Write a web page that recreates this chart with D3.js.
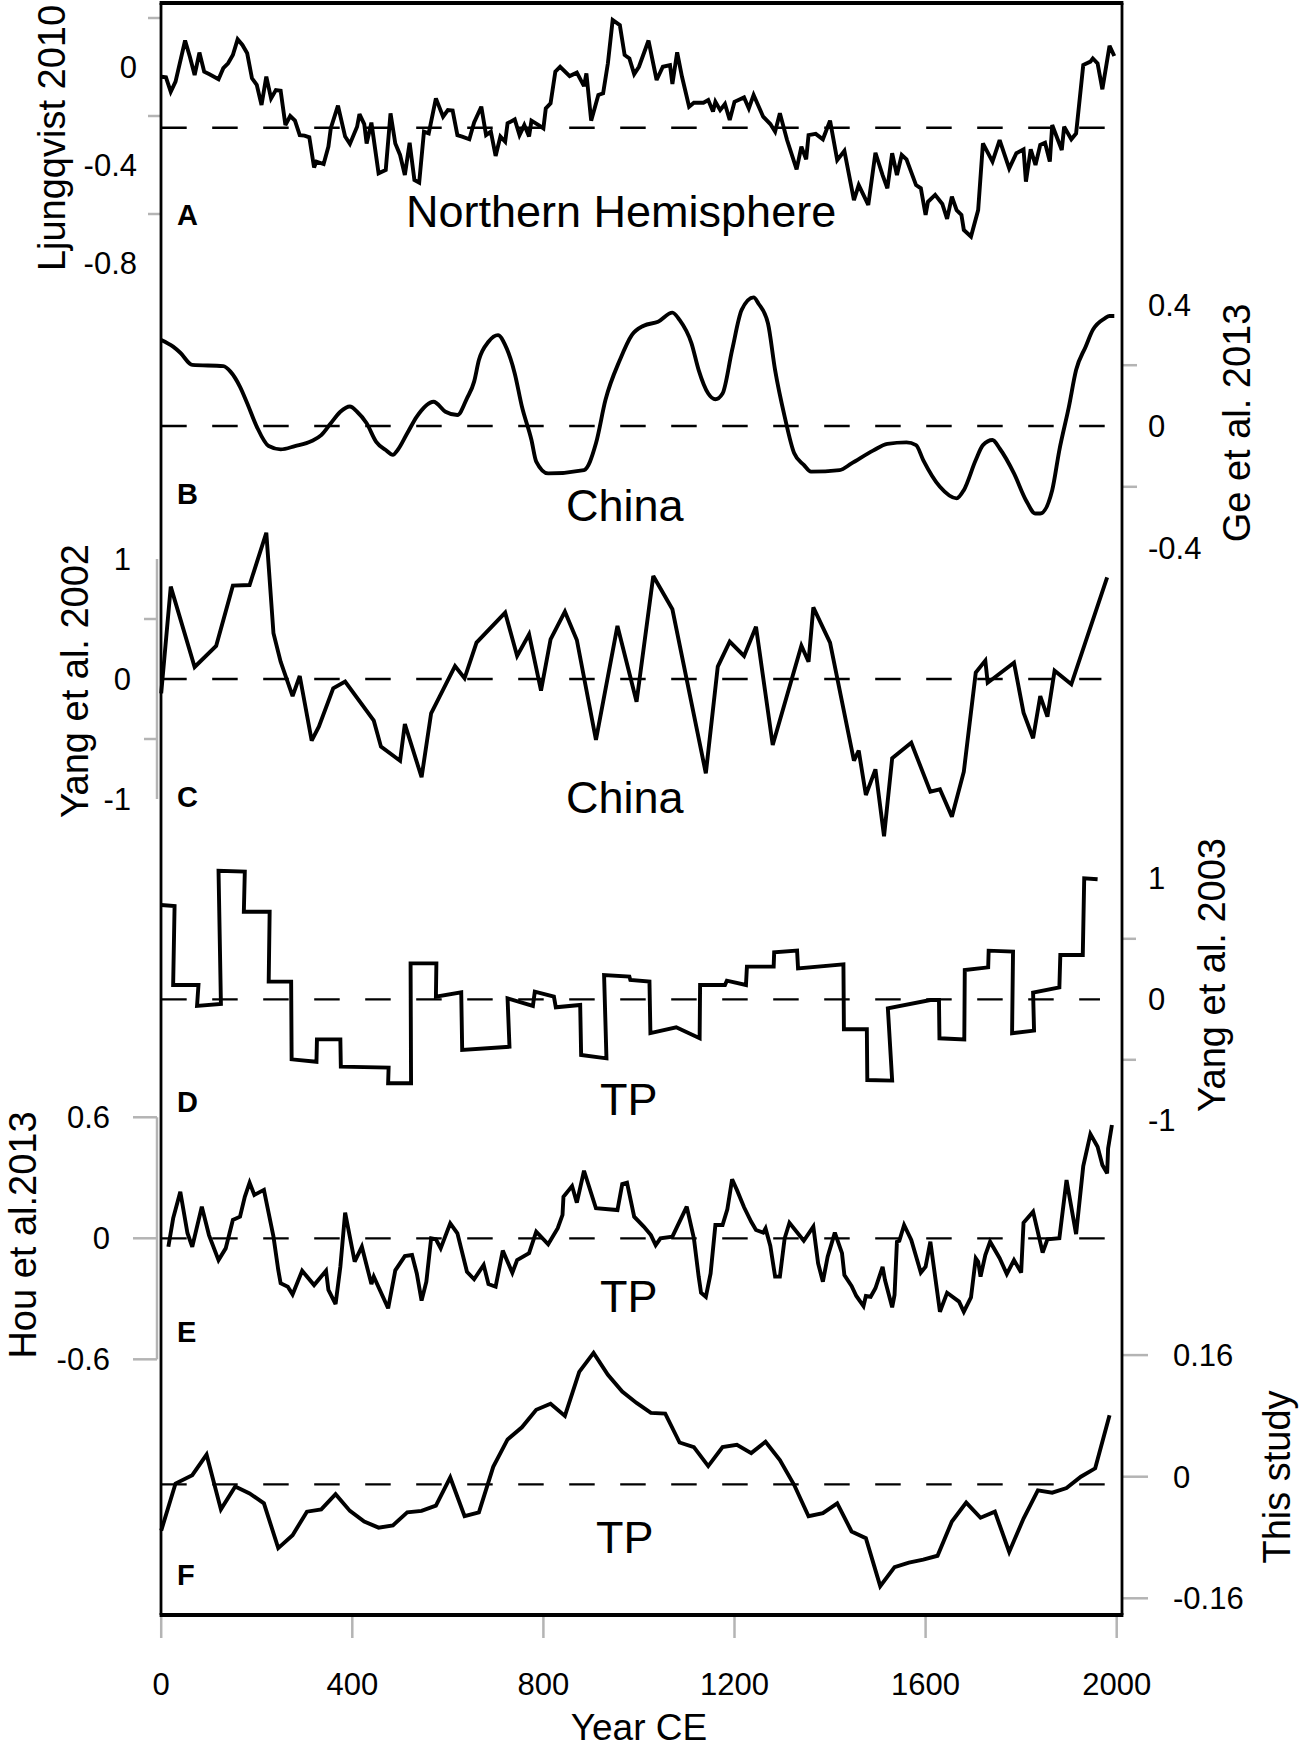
<!DOCTYPE html>
<html>
<head>
<meta charset="utf-8">
<script src="https://cdn.jsdelivr.net/npm/d3@7"></script>
<style>
body { margin: 0; background: #fff; }
text { font-family: "Liberation Sans", Arial, sans-serif; fill: #000; }
</style>
</head>
<body>
<div id="chart"></div>
<script>
// values, [year CE, anomaly]
const ljungqvist2010 = [[0,-0.04],[10,-0.042],[20,-0.101],[30,-0.06],[50,0.108],[60,0.042],[70,-0.033],[80,0.059],[90,-0.019],[100,-0.029],[120,-0.05],[130,-0.005],[140,0.015],[150,0.049],[160,0.113],[170,0.09],[180,0.056],[190,-0.046],[200,-0.073],[210,-0.155],[220,-0.039],[230,-0.128],[240,-0.094],[250,-0.097],[260,-0.237],[270,-0.2],[280,-0.219],[290,-0.278],[300,-0.28],[310,-0.287],[320,-0.41],[325,-0.386],[340,-0.396],[350,-0.325],[355,-0.25],[370,-0.158],[385,-0.284],[395,-0.314],[410,-0.244],[415,-0.192],[425,-0.233],[430,-0.312],[440,-0.227],[455,-0.434],[470,-0.42],[480,-0.189],[490,-0.312],[500,-0.359],[510,-0.441],[520,-0.309],[530,-0.461],[540,-0.472],[550,-0.264],[560,-0.271],[575,-0.128],[590,-0.203],[600,-0.176],[610,-0.178],[620,-0.278],[630,-0.284],[645,-0.295],[655,-0.226],[670,-0.162],[680,-0.278],[690,-0.264],[700,-0.363],[710,-0.284],[720,-0.305],[725,-0.23],[740,-0.214],[750,-0.278],[760,-0.237],[770,-0.284],[775,-0.219],[790,-0.237],[800,-0.25],[805,-0.169],[815,-0.148],[825,-0.019],[835,0.001],[855,-0.037],[870,-0.023],[885,-0.078],[890,-0.026],[900,-0.219],[915,-0.114],[925,-0.107],[935,0.015],[945,0.192],[960,0.171],[970,0.049],[980,0.035],[990,-0.029],[1000,0.001],[1020,0.108],[1037,-0.053],[1050,0.001],[1065,0.008],[1070,-0.069],[1080,0.06],[1090,-0.039],[1105,-0.162],[1115,-0.146],[1135,-0.146],[1145,-0.135],[1155,-0.182],[1160,-0.142],[1170,-0.176],[1180,-0.151],[1190,-0.216],[1200,-0.142],[1220,-0.124],[1230,-0.169],[1240,-0.114],[1260,-0.203],[1275,-0.233],[1285,-0.264],[1295,-0.189],[1310,-0.298],[1330,-0.418],[1340,-0.325],[1350,-0.377],[1355,-0.278],[1370,-0.273],[1385,-0.295],[1400,-0.219],[1415,-0.38],[1430,-0.342],[1450,-0.543],[1460,-0.482],[1480,-0.563],[1495,-0.35],[1510,-0.441],[1520,-0.495],[1530,-0.352],[1540,-0.441],[1550,-0.359],[1560,-0.377],[1580,-0.482],[1590,-0.495],[1600,-0.604],[1605,-0.55],[1620,-0.522],[1635,-0.559],[1645,-0.62],[1655,-0.529],[1665,-0.584],[1675,-0.604],[1680,-0.665],[1695,-0.692],[1710,-0.584],[1720,-0.312],[1740,-0.386],[1755,-0.298],[1775,-0.414],[1790,-0.352],[1805,-0.336],[1810,-0.468],[1820,-0.336],[1830,-0.4],[1840,-0.318],[1850,-0.309],[1860,-0.386],[1865,-0.237],[1885,-0.339],[1890,-0.244],[1905,-0.295],[1915,-0.271],[1930,0.008],[1945,0.022],[1950,0.035],[1960,0.015],[1970,-0.091],[1985,0.086],[1995,0.045]];

const ge2013 = [[0,0.283],[25,0.261],[40,0.241],[65,0.201],[130,0.197],[145,0.179],[165,0.129],[180,0.075],[200,-0.002],[225,-0.066],[250,-0.077],[280,-0.066],[315,-0.049],[335,-0.03],[355,0.009],[375,0.047],[395,0.064],[410,0.047],[430,0.009],[450,-0.052],[470,-0.079],[485,-0.095],[495,-0.079],[515,-0.024],[535,0.031],[570,0.08],[595,0.047],[620,0.036],[640,0.091],[655,0.146],[665,0.217],[685,0.277],[705,0.299],[720,0.266],[740,0.173],[755,0.064],[775,-0.046],[785,-0.117],[810,-0.156],[885,-0.145],[910,-0.057],[930,0.086],[960,0.217],[985,0.299],[1010,0.33],[1040,0.343],[1070,0.373],[1085,0.349],[1110,0.272],[1125,0.184],[1145,0.107],[1160,0.088],[1175,0.107],[1195,0.25],[1215,0.382],[1240,0.423],[1250,0.403],[1270,0.338],[1285,0.184],[1305,0.031],[1325,-0.09],[1345,-0.128],[1360,-0.15],[1420,-0.145],[1445,-0.123],[1490,-0.081],[1520,-0.059],[1560,-0.054],[1580,-0.063],[1595,-0.112],[1630,-0.2],[1665,-0.238],[1680,-0.211],[1705,-0.112],[1720,-0.063],[1740,-0.046],[1755,-0.074],[1785,-0.156],[1810,-0.244],[1830,-0.288],[1840,-0.288],[1865,-0.211],[1880,-0.079],[1900,0.064],[1915,0.184],[1935,0.261],[1950,0.316],[1975,0.354],[1985,0.362],[1995,0.362]];

const yang2002 = [[0,-0.12],[20,0.77],[70,0.1],[115,0.275],[150,0.778],[185,0.783],[220,1.219],[235,0.381],[250,0.144],[275,-0.142],[290,0.025],[315,-0.514],[330,-0.397],[360,-0.078],[385,-0.022],[445,-0.347],[460,-0.564],[500,-0.681],[510,-0.375],[545,-0.819],[565,-0.286],[615,0.108],[635,0.006],[660,0.303],[720,0.553],[745,0.192],[770,0.372],[795,-0.097],[815,0.331],[845,0.561],[870,0.325],[910,-0.508],[955,0.442],[995,-0.189],[1030,0.858],[1070,0.581],[1140,-0.786],[1165,0.103],[1190,0.311],[1220,0.192],[1245,0.436],[1280,-0.55],[1340,0.278],[1355,0.144],[1365,0.597],[1400,0.303],[1450,-0.681],[1460,-0.597],[1475,-0.967],[1495,-0.753],[1513,-1.31],[1530,-0.661],[1570,-0.531],[1610,-0.939],[1630,-0.919],[1655,-1.147],[1680,-0.772],[1705,0.053],[1725,0.153],[1730,-0.031],[1785,0.136],[1805,-0.281],[1825,-0.494],[1840,-0.142],[1855,-0.314],[1870,0.069],[1905,-0.044],[1980,0.847]];

const yang2003 = [[0,0.779],[28,0.771],[25,0.118],[78,0.118],[75,-0.055],[125,-0.039],[120,1.063],[175,1.055],[173,0.724],[227,0.724],[225,0.146],[272,0.146],[273,-0.496],[325,-0.516],[326,-0.331],[375,-0.331],[376,-0.557],[476,-0.565],[475,-0.694],[523,-0.694],[522,0.297],[576,0.297],[575,0.022],[628,0.058],[630,-0.419],[729,-0.392],[725,0.008],[778,-0.055],[782,0.063],[822,0.022],[826,-0.066],[877,-0.047],[879,-0.46],[932,-0.488],[927,0.201],[980,0.187],[982,0.16],[1022,0.146],[1024,-0.28],[1078,-0.231],[1127,-0.322],[1128,0.118],[1180,0.118],[1184,0.154],[1224,0.118],[1226,0.27],[1282,0.27],[1283,0.388],[1331,0.402],[1333,0.256],[1428,0.289],[1429,-0.248],[1477,-0.248],[1478,-0.667],[1530,-0.672],[1521,-0.074],[1610,-0.006],[1628,-0.006],[1629,-0.322],[1681,-0.331],[1682,0.242],[1731,0.264],[1732,0.402],[1783,0.394],[1781,-0.281],[1827,-0.259],[1825,0.055],[1880,0.099],[1882,0.366],[1929,0.366],[1932,1.0],[1960,0.992]];

const hou2013 = [[15,-0.042],[25,0.099],[40,0.231],[55,0.025],[65,-0.042],[85,0.157],[100,0.016],[120,-0.108],[135,-0.05],[150,0.091],[165,0.107],[175,0.206],[185,0.276],[195,0.215],[215,0.24],[235,0.008],[245,-0.157],[250,-0.223],[265,-0.24],[275,-0.278],[295,-0.161],[320,-0.232],[345,-0.161],[350,-0.256],[365,-0.326],[375,-0.141],[385,0.127],[405,-0.116],[420,-0.042],[440,-0.227],[445,-0.19],[475,-0.347],[490,-0.159],[510,-0.088],[525,-0.083],[535,-0.174],[545,-0.309],[555,-0.215],[565,0],[575,-0.005],[585,-0.05],[605,0.074],[620,0.025],[640,-0.166],[655,-0.203],[675,-0.132],[685,-0.227],[700,-0.24],[715,-0.061],[735,-0.171],[745,-0.108],[770,-0.074],[785,0.033],[810,-0.03],[830,0.05],[840,0.116],[842,0.206],[860,0.259],[870,0.177],[885,0.335],[910,0.149],[955,0.14],[965,0.269],[975,0.276],[990,0.107],[1010,0.058],[1025,0.016],[1035,-0.034],[1045,0],[1070,0.008],[1100,0.157],[1115,0],[1125,-0.19],[1130,-0.27],[1140,-0.29],[1150,-0.174],[1160,0.066],[1175,0.066],[1185,0.144],[1195,0.292],[1205,0.24],[1220,0.154],[1235,0.082],[1245,0.041],[1260,0.028],[1265,0.049],[1275,-0.038],[1285,-0.19],[1295,-0.19],[1305,0],[1315,0.077],[1345,-0.012],[1365,0.058],[1375,-0.124],[1385,-0.215],[1395,-0.091],[1410,0.028],[1425,-0.074],[1430,-0.182],[1445,-0.236],[1455,-0.286],[1470,-0.336],[1475,-0.286],[1485,-0.29],[1495,-0.248],[1510,-0.141],[1515,-0.207],[1530,-0.342],[1535,-0.281],[1540,-0.017],[1545,-0.012],[1555,0.066],[1570,-0.008],[1590,-0.17],[1600,-0.141],[1610,-0.017],[1630,-0.364],[1645,-0.27],[1670,-0.314],[1680,-0.364],[1695,-0.293],[1705,-0.099],[1710,-0.116],[1715,-0.19],[1725,-0.083],[1735,-0.017],[1755,-0.099],[1770,-0.177],[1785,-0.108],[1800,-0.17],[1805,0.077],[1825,0.132],[1845,-0.071],[1855,-0.005],[1880,0],[1895,0.289],[1915,0.021],[1930,0.358],[1945,0.517],[1960,0.454],[1970,0.363],[1980,0.322],[1982,0.446],[1990,0.562]];

const thisStudy = [[0,-0.071],[30,-0.009],[65,0.002],[95,0.029],[125,-0.043],[155,-0.013],[185,-0.022],[215,-0.035],[245,-0.094],[275,-0.077],[305,-0.046],[335,-0.043],[365,-0.023],[395,-0.045],[425,-0.059],[455,-0.067],[485,-0.064],[515,-0.047],[545,-0.045],[575,-0.038],[605,-0.001],[635,-0.052],[665,-0.047],[695,0.013],[725,0.049],[755,0.065],[785,0.088],[815,0.096],[845,0.08],[875,0.138],[905,0.163],[935,0.134],[965,0.112],[995,0.097],[1025,0.084],[1055,0.083],[1085,0.045],[1115,0.039],[1145,0.014],[1175,0.039],[1205,0.042],[1235,0.031],[1265,0.046],[1295,0.022],[1325,-0.011],[1355,-0.052],[1385,-0.048],[1415,-0.035],[1445,-0.072],[1475,-0.081],[1505,-0.144],[1535,-0.119],[1565,-0.113],[1595,-0.109],[1625,-0.104],[1655,-0.059],[1685,-0.034],[1715,-0.054],[1745,-0.046],[1775,-0.099],[1805,-0.055],[1835,-0.018],[1865,-0.021],[1895,-0.015],[1925,0],[1955,0.011],[1985,0.081]];

const series = [ljungqvist2010, ge2013, yang2002, yang2003, hou2013, thisStudy];
const panelLetters = ["A", "B", "C", "D", "E", "F"];
const regionNames = ["Northern Hemisphere", "China", "China", "TP", "TP", "TP"];
const axisTitles = ["Ljungqvist 2010", "Ge et al. 2013", "Yang et al. 2002", "Yang et al. 2003", "Hou et al.2013", "This study"];
const tickLabelValues = [[0, -0.4, -0.8], [0.4, 0, -0.4], [1, 0, -1], [1, 0, -1], [0.6, 0, -0.6], [0.16, 0, -0.16]];
const tickMarkValues = [[0.2, -0.2, -0.6], [0.2, -0.2], [0.5, -0.5], [0.5, -0.5], [0.6, 0, -0.6], [0.16, 0, -0.16]];
const refLevels = [-0.248, 0, 0, 0, 0, -0.01];
const refEnds = [1979, 1978, 1968, 1965, 1985, 1978];
const yearTicks = [0, 400, 800, 1200, 1600, 2000];

// layout
var width = 1304,
    height = 1754;
const frame = { left: 161, right: 1122, top: 3, bottom: 1615 };
const panels = [
  { zero: 67, unit: 245, side: "L", tick: [148, 161], labelX: 137, titleX: 65, titleY: 138, letterY: 225, nameX: 406, nameY: 227 },
  { zero: 426, unit: 304, side: "R", tick: [1122, 1137], labelX: 1148, titleX: 1250, titleY: 423, letterY: 504, nameX: 566, nameY: 521, smooth: true },
  { zero: 679, unit: 120, side: "L", tick: [144, 157], labelX: 131, titleX: 88, titleY: 681, letterY: 807, nameX: 566, nameY: 813, spine: [1, -1] },
  { zero: 999.3, unit: 121, side: "R", tick: [1122, 1136], labelX: 1148, titleX: 1225, titleY: 975, letterY: 1112, nameX: 600, nameY: 1115 },
  { zero: 1238.3, unit: 201.7, side: "L", tick: [133, 157], labelX: 110, titleX: 36, titleY: 1235, letterY: 1342, nameX: 600, nameY: 1312, spine: [0.6, -0.6] },
  { zero: 1476.7, unit: 760, side: "R", tick: [1122, 1148], labelX: 1173, titleX: 1290, titleY: 1477, letterY: 1585, nameX: 596, nameY: 1553 }
];

const svg = d3.select("#chart")
  .append("svg")
    .attr("width", width)
    .attr("height", height);

const x = d3.scaleLinear().domain([0, 2000]).range([161.2, 1116.7]);

panels.forEach((p, i) => {
  const y = d3.scaleLinear().domain([0, 1]).range([p.zero, p.zero - p.unit]);
  const g = svg.append("g");

  if (p.spine) {
    g.append("line")
      .attr("x1", p.tick[1]).attr("x2", p.tick[1])
      .attr("y1", y(p.spine[0])).attr("y2", y(p.spine[1]))
      .attr("stroke", "#b4b4b4").attr("stroke-width", 2.5);
  }

  g.selectAll(".tick")
    .data(tickMarkValues[i])
    .join("line")
      .attr("x1", p.tick[0]).attr("x2", p.tick[1])
      .attr("y1", d => y(d)).attr("y2", d => y(d))
      .attr("stroke", "#b4b4b4").attr("stroke-width", 2.5);

  g.selectAll(".lab")
    .data(tickLabelValues[i])
    .join("text")
      .attr("x", p.labelX)
      .attr("y", d => y(d))
      .attr("dy", "0.36em")
      .attr("text-anchor", p.side == "L" ? "end" : "start")
      .attr("font-size", 31)
      .text(d => String(d));

  g.append("text")
    .attr("transform", `translate(${p.titleX},${p.titleY}) rotate(-90)`)
    .attr("text-anchor", "middle")
    .attr("font-size", 38)
    .text(axisTitles[i]);

  g.append("line")
    .attr("x1", x(0)).attr("x2", x(refEnds[i]))
    .attr("y1", y(refLevels[i])).attr("y2", y(refLevels[i]))
    .attr("stroke", "#000").attr("stroke-width", 2.3)
    .attr("stroke-dasharray", "25.5,25.5");

  const line = d3.line()
    .x(d => x(d[0]))
    .y(d => y(d[1]))
    .curve(p.smooth ? d3.curveMonotoneX : d3.curveLinear);

  g.append("path")
    .attr("d", line(series[i]))
    .attr("fill", "none")
    .attr("stroke", "#000")
    .attr("stroke-width", 3.9)
    .attr("stroke-linejoin", "miter")
    .attr("stroke-miterlimit", 3);

  g.append("text")
    .attr("x", 177).attr("y", p.letterY)
    .attr("font-size", 29).attr("font-weight", "bold")
    .text(panelLetters[i]);

  g.append("text")
    .attr("x", p.nameX).attr("y", p.nameY)
    .attr("font-size", 45)
    .text(regionNames[i]);
});

// frame: heavier top and bottom, lighter sides
svg.append("line")
  .attr("x1", frame.left).attr("x2", frame.left)
  .attr("y1", frame.top).attr("y2", frame.bottom)
  .attr("stroke", "#000").attr("stroke-width", 2.8);
svg.append("line")
  .attr("x1", frame.right).attr("x2", frame.right)
  .attr("y1", frame.top).attr("y2", frame.bottom)
  .attr("stroke", "#000").attr("stroke-width", 2.8);
svg.append("line")
  .attr("x1", frame.left - 1.4).attr("x2", frame.right + 1.4)
  .attr("y1", frame.top).attr("y2", frame.top)
  .attr("stroke", "#000").attr("stroke-width", 4);
svg.append("line")
  .attr("x1", frame.left - 1.4).attr("x2", frame.right + 1.4)
  .attr("y1", frame.bottom).attr("y2", frame.bottom)
  .attr("stroke", "#000").attr("stroke-width", 4);

// x axis
svg.selectAll(".xt")
  .data(yearTicks)
  .join("line")
    .attr("x1", d => x(d)).attr("x2", d => x(d))
    .attr("y1", frame.bottom + 2).attr("y2", 1638)
    .attr("stroke", "#b4b4b4").attr("stroke-width", 2.5);

svg.selectAll(".xl")
  .data(yearTicks)
  .join("text")
    .attr("x", d => x(d))
    .attr("y", 1695)
    .attr("text-anchor", "middle")
    .attr("font-size", 31)
    .text(d => d);

svg.append("text")
  .attr("x", x(1000)).attr("y", 1740)
  .attr("text-anchor", "middle")
  .attr("font-size", 37)
  .text("Year CE");
</script>
</body>
</html>
